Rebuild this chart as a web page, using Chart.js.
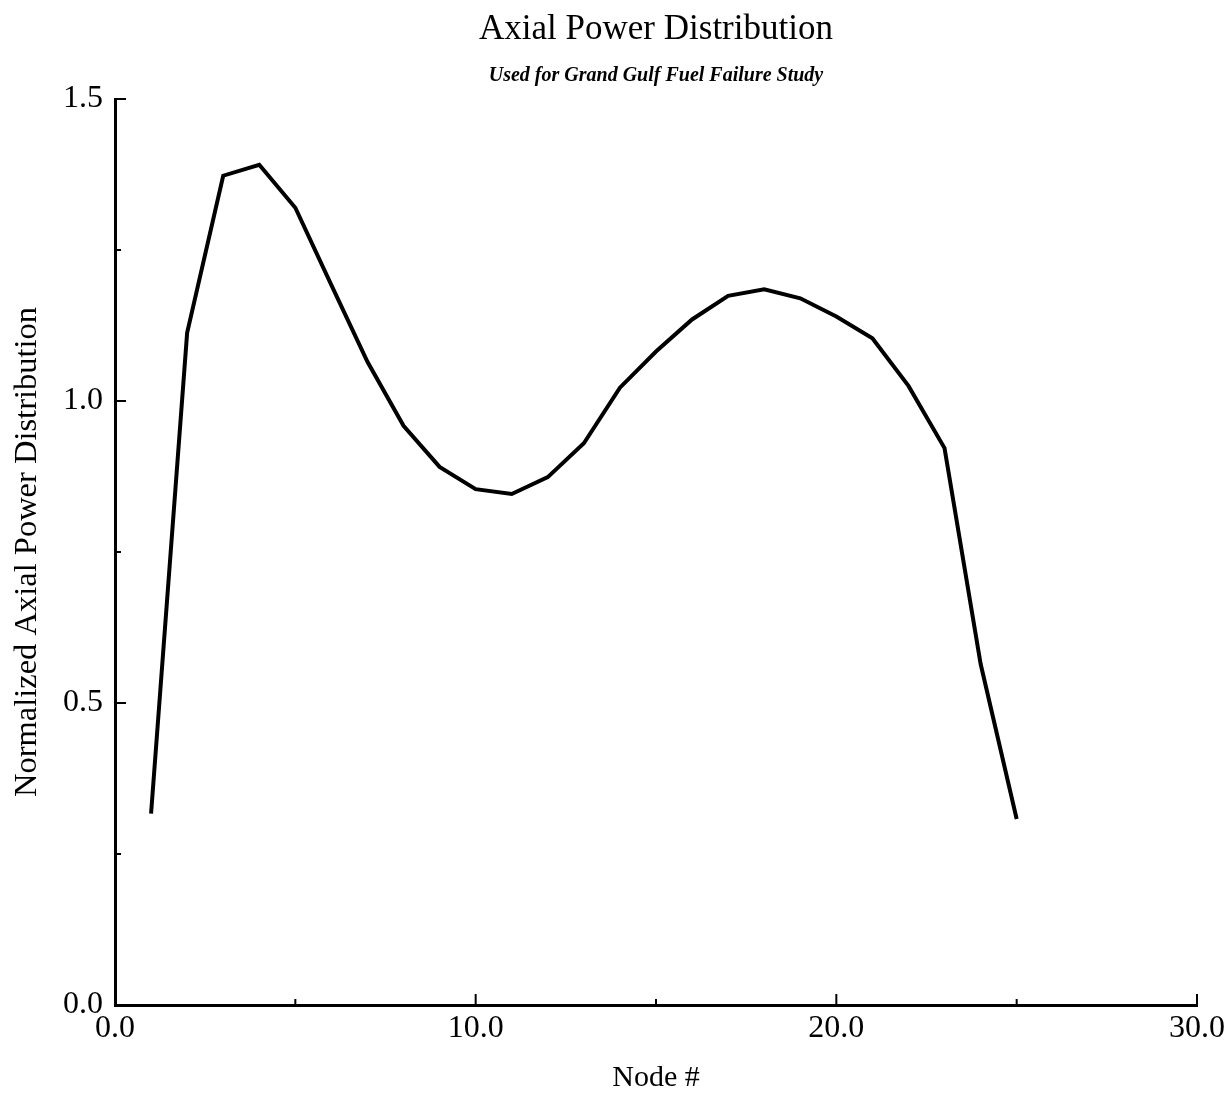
<!DOCTYPE html>
<html>
<head>
<meta charset="utf-8">
<title>Axial Power Distribution</title>
<script src="https://cdn.jsdelivr.net/npm/chart.js@4"></script>
<style>
  body { margin: 0; background: #fff; }
  #wrap { width: 1232px; height: 1098px; position: relative; }
</style>
</head>
<body>
<div id="wrap"><canvas id="powerChart"></canvas></div>
<script>
// ============================
// DATA
// ============================
const nodes = [1, 2, 3, 4, 5, 6, 7, 8, 9, 10, 11, 12, 13, 14, 15, 16, 17, 18, 19, 20, 21, 22, 23, 24, 25];
const axialPower = [0.317, 1.113, 1.373, 1.391, 1.320, 1.192, 1.065, 0.959, 0.891, 0.854, 0.846, 0.874, 0.930,
  1.022, 1.082, 1.135, 1.174, 1.185, 1.170, 1.140, 1.104, 1.025, 0.922, 0.565, 0.308];
const xTickLabels = ["0.0", "10.0", "20.0", "30.0"];
const yTickLabels = ["0.0", "0.5", "1.0", "1.5"];

const serif = "'Liberation Serif', 'Times New Roman', serif";

// ============================
// INWARD TICK MARKS
// ============================
const inwardTicks = {
  id: "inwardTicks",
  afterDraw(chart) {
    const { ctx, scales } = chart;
    ctx.save();
    ctx.strokeStyle = "#000";
    ctx.lineWidth = 2;
    const x = scales.x, y = scales.y;
    x.ticks.forEach((t) => {
      const px = x.getPixelForValue(t.value);
      const len = t.value % 10 === 0 ? 11 : 6;
      ctx.beginPath();
      ctx.moveTo(px, y.bottom);
      ctx.lineTo(px, y.bottom - len);
      ctx.stroke();
    });
    y.ticks.forEach((t) => {
      const py = y.getPixelForValue(t.value);
      const len = Math.abs(t.value * 2 - Math.round(t.value * 2)) < 1e-6 ? 11 : 6;
      ctx.beginPath();
      ctx.moveTo(x.left, py);
      ctx.lineTo(x.left + len, py);
      ctx.stroke();
    });
    ctx.restore();
  },
};

const ctx = document.getElementById("powerChart").getContext("2d");

new Chart(ctx, {
  type: "line",
  data: {
    datasets: [
      {
        data: nodes.map((n, i) => ({ x: n, y: axialPower[i] })),
        borderColor: "#000",
        borderWidth: 4,
        pointRadius: 0,
        tension: 0,
        fill: false,
      },
    ],
  },
  options: {
    responsive: true,
    maintainAspectRatio: false,
    animation: false,
    layout: { padding: { top: 9, right: 35, left: 0, bottom: 0 } },
    plugins: {
      legend: { display: false },
      tooltip: { enabled: false },
      title: {
        display: true,
        fullSize: false, // centre over the plot area, like the original
        text: "Axial Power Distribution",
        color: "#000",
        font: { family: serif, size: 35, weight: "normal" },
        padding: { top: 0, bottom: 13 },
      },
      subtitle: {
        display: true,
        fullSize: false,
        text: "Used for Grand Gulf Fuel Failure Study",
        color: "#000",
        font: { family: serif, size: 20, style: "italic", weight: "bold" },
        padding: { top: 0, bottom: 11 },
      },
    },
    scales: {
      x: {
        type: "linear",
        min: 0,
        max: 30,
        afterFit: (s) => { s.height = 93; },
        border: { display: true, color: "#000", width: 3 },
        grid: { display: false, drawTicks: false },
        ticks: {
          stepSize: 5,
          autoSkip: false,
          maxRotation: 0,
          padding: 4,
          color: "#000",
          font: { family: serif, size: 32 },
          callback: (v) => (v % 10 === 0 ? xTickLabels[v / 10] : ""),
        },
        title: {
          display: true,
          text: "Node #",
          color: "#000",
          font: { family: serif, size: 30 },
          padding: { top: 0, bottom: 2 },
        },
      },
      y: {
        min: 0,
        max: 1.5,
        afterFit: (s) => { s.width = 115; },
        border: { display: true, color: "#000", width: 3 },
        grid: { display: false, drawTicks: false },
        ticks: {
          stepSize: 0.25,
          autoSkip: false,
          padding: 12,
          color: "#000",
          font: { family: serif, size: 32 },
          callback: (v) => {
            const k = Math.round(v * 2);
            return Math.abs(v * 2 - k) < 1e-6 ? yTickLabels[k] : "";
          },
        },
        title: {
          display: true,
          text: "Normalized Axial Power Distribution",
          color: "#000",
          font: { family: serif, size: 32.5 },
          padding: { top: 8, bottom: 0 },
        },
      },
    },
  },
  plugins: [inwardTicks],
});
</script>
</body>
</html>
